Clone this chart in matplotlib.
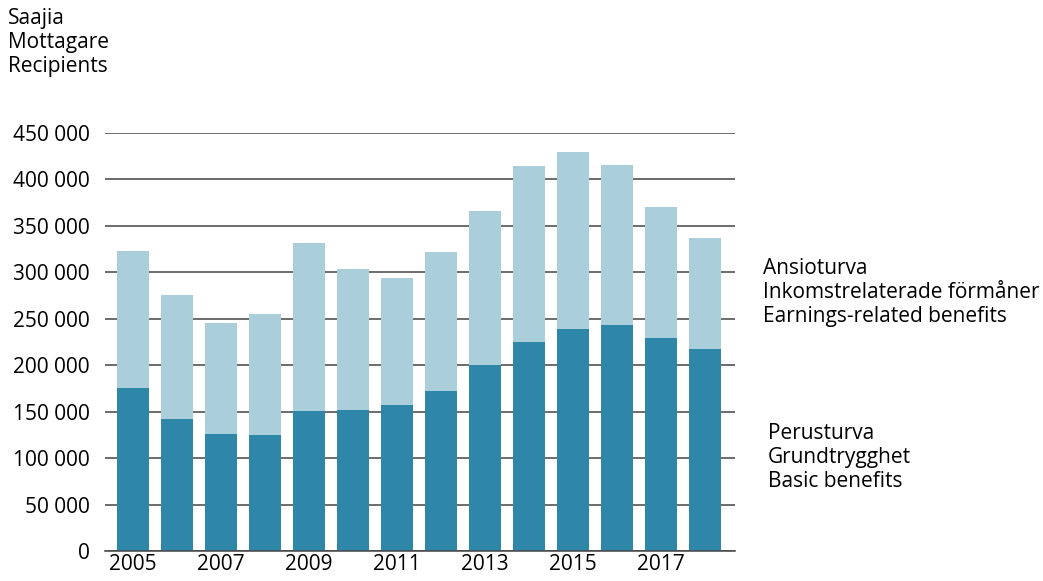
import numpy as np
import matplotlib.pyplot as plt

plt.rcParams['font.family'] = ['Open Sans', 'DejaVu Sans']

years = list(range(2005, 2019))
basic = [175500, 142000, 126000, 125000, 150700, 151800, 157000,
         172000, 200000, 225000, 239000, 243000, 229000, 217500]
total = [323000, 275600, 245500, 255000, 331600, 303600, 294000,
         322000, 366000, 414500, 429500, 415500, 370000, 337000]
earnings = [t - b for t, b in zip(total, basic)]

dark = '#2e86a8'
light = '#abcfda'
fs = 15

fig = plt.figure(figsize=(10.43, 5.81), dpi=100)
ax = fig.add_axes([0.1007, 0.0516, 0.604, 0.7194])

x = np.arange(len(years))
ax.bar(x, basic, width=0.727, color=dark, zorder=2)
ax.bar(x, earnings, bottom=basic, width=0.727, color=light, zorder=2)

ax.set_ylim(0, 450000)
ax.set_xlim(-0.636, 13.68)
yt = np.arange(0, 450001, 50000)
ax.set_yticks(yt)
ax.set_yticklabels(['{:,}'.format(v).replace(',', ' ') for v in yt], fontsize=fs)
ax.set_xticks(x[::2])
ax.set_xticklabels([str(y) for y in years[::2]], fontsize=fs)
ax.tick_params(axis='y', length=0, pad=11)
ax.tick_params(axis='x', length=0, pad=2)
ax.yaxis.grid(True, color='#444444', linewidth=1.1, zorder=0)
for s in ['top', 'right', 'left']:
    ax.spines[s].set_visible(False)
ax.spines['bottom'].set_color('#444444')
ax.spines['bottom'].set_linewidth(1.1)

fig.text(8 / 1043, 1 - 8 / 581, 'Saajia\nMottagare\nRecipients', fontsize=fs,
         va='top', ha='left', linespacing=1.2)
fig.text(763 / 1043, 1 - 258 / 581,
         'Ansioturva\nInkomstrelaterade förmåner\nEarnings-related benefits',
         fontsize=fs, va='top', ha='left', linespacing=1.2)
fig.text(768 / 1043, 1 - 423 / 581, 'Perusturva\nGrundtrygghet\nBasic benefits',
         fontsize=fs, va='top', ha='left', linespacing=1.2)

fig.savefig('out.png', dpi=100)
